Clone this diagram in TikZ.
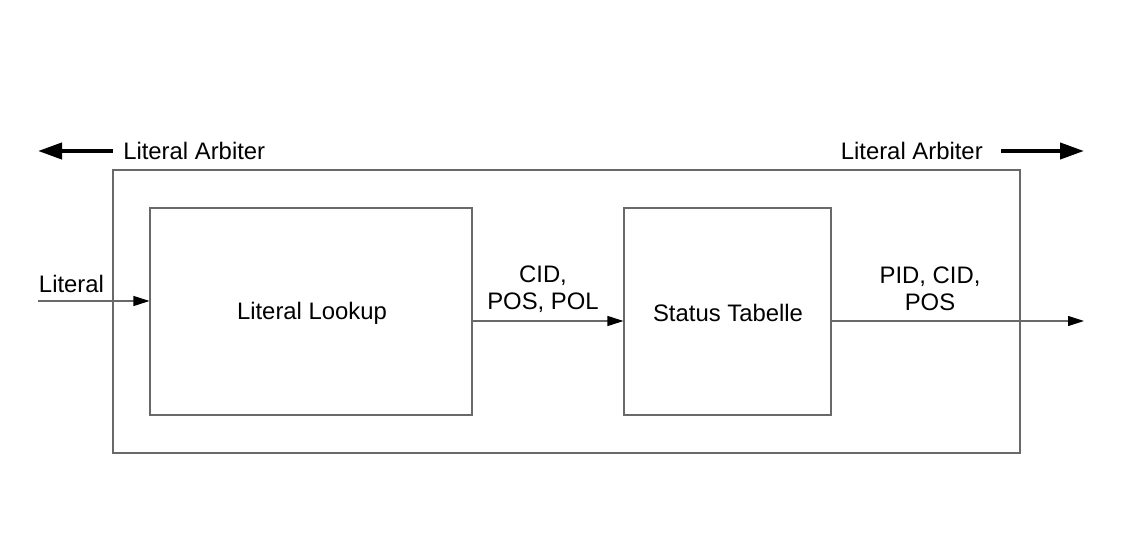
\documentclass[tikz,border=0pt]{standalone}
\usepackage{fontspec}
\setmainfont{Liberation Sans}
\usetikzlibrary{arrows.meta}
\definecolor{linegray}{RGB}{105,105,105}

\begin{document}
\begin{tikzpicture}[x=0.75pt,y=-0.75pt,
		every node/.style={font=\fontsize{17.9}{20.5}\selectfont, text=black},
		block/.style={draw=linegray, line width=0.8pt, inner sep=0pt},
		sig/.style={draw=linegray, line width=0.8pt, -{Triangle[length=12pt,width=7.5pt,black]}},
		bus/.style={draw=black, line width=3pt, -{Triangle[length=18pt,width=12pt]}}]
		\useasboundingbox (0,0) rectangle (1123,556);
		% boxes
		\node[block, minimum width=680.25pt, minimum height=212.25pt] (arbiter) at (566.5,311.5) {};
		\node[block, minimum width=241.5pt, minimum height=155.25pt] (lookup) at (311,311.5) {};
		\node (lookuptext) at (312,313.5) {Literal Lookup};
		\node[block, minimum width=155.25pt, minimum height=155.25pt] (status) at (727.5,311.5) {};
		\node (statustext) at (728,313) {Status Tabelle};
		% free ends
		\coordinate (in) at (38,301);
		\coordinate (out) at (1084,321);
		\coordinate (lstart) at (113,151);
		\coordinate (lend) at (38,151);
		\coordinate (rstart) at (1001,151);
		\coordinate (rend) at (1084,151);
		% signals
		\draw[sig] (in) -- (in -| lookup.west);
		\node (lit) at (71.5,284) {Literal};
		\draw[sig] (lookup.east |- 0,321) -- (status.west |- 0,321);
		\node[align=center] (cid) at (543,289) {CID,\\POS, POL};
		\draw[sig] (status.east |- 0,321) -- (out);
		\node[align=center] (pid) at (930,289) {PID, CID,\\POS};
		% arbiter
		\draw[bus] (lstart) -- (lend);
		\node[anchor=west, inner sep=0pt] (larb) at (123,151) {Literal Arbiter};
		\draw[bus] (rstart) -- (rend);
		\node[anchor=east, inner sep=0pt] (rarb) at (983,151) {Literal Arbiter};
\end{tikzpicture}
\end{document}
